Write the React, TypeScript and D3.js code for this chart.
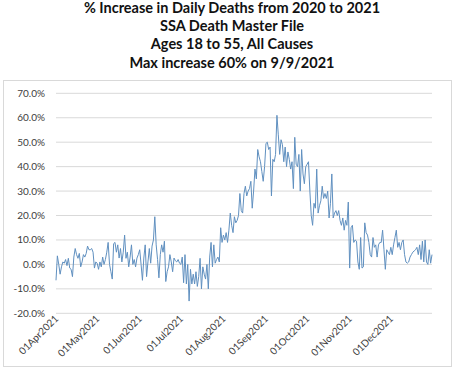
import React from "react";
import * as d3 from "d3";

const titleLines = [
  "% Increase in Daily Deaths from 2020 to 2021",
  "SSA Death Master File",
  "Ages 18 to 55, All Causes",
  "Max increase 60% on 9/9/2021",
];

const yTicks = [-20, -10, 0, 10, 20, 30, 40, 50, 60, 70];

const apr = [-6.5, 3.5, 0, -4, -1, 1, 0.5, 2, -0.5, 2.5, -1.5, -2, -5, 3, 6.5, 4, 2.5, 4.5, -1, 1, 4, 3, 4.5, 7.5, 6, 6, 6.5, 5, -1.5, 1];
const may = [0.5, -2, 1, -1, 3, 0, 2, 5, 9, 0, -3, -6, 8.5, 9, 5, 8, 2.6, 6.5, 1, 5, 12, 2.5, 5, -1, 3, 8, 0, 2, -1, 2.6, 4];
const jun = [6, 0, -6.5, 2.6, 8, -5, 1, 6.5, 0.5, 7.5, 10, 19.5, 8, 2, -5.5, 4, 8, 5, 9.5, -7, -3, -1, 4, 1, -3, 2.6, 1.5, 1, 2, 0.5];
const jul = [0, 3, -7.5, 4, -8, 0, -15, -2, -8, -4, -8, -3, -9, -5, 2.5, -10, -1, -4, -6, 0, -10, 3, 9, -1, 8, 0.5, 2, 3, 1, 15, 9];
const aug = [12, 10, 13, 9, 14, 21, 16, 13, 19.5, 17, 18, 20, 29, 22, 21, 29, 32, 28, 30, 31, 34, 23, 30, 39, 35, 47, 44, 42, 38, 34, 40];
const sep = [49.5, 50, 47, 48, 28, 43, 42, 45, 61, 53, 45, 51, 49, 42, 48, 40, 46, 43, 39, 42, 31, 52, 41, 40, 45, 30, 47, 37, 33, 40];
const oct = [41, 42, 30, 20, 16, 25, 23, 39, 21, 24, 26, 32, 27, 29, 27, 30, 19, 25, 37, 19, 21, 22, 20, 22, 18, 16, 19, 14, 18, 16, 25.5];
const nov = [-1.5, 15, 16, 9, 10, 9.5, 1, -2, 11, -1.5, -1, 17, 13, 12, 9, 4, 3, 11, 7, 8, 3, 8, 9, 9, 14, 6, -2, 6, 5, 4];
const dec = [7, 4, 8, 11, 14, 7, 9, 6, 9, 10, 4, 1, 0.5, 1, 3, 4, 5, 5.5, 6, 7, 4, 8, 2, 9.5, 1, 10, 1, 0, 6, 0.5, 4];

const months = [apr, may, jun, jul, aug, sep, oct, nov, dec];

export default function App() {
  const W = 455, H = 368;
  const left = 56, right = 432, top = 93.3, bottom = 313.3;

  const startDate = new Date(Date.UTC(2021, 3, 1));
  const endDate = new Date(Date.UTC(2021, 11, 31));

  const data: { date: Date; v: number }[] = [];
  months.forEach((arr, mi) => {
    arr.forEach((v, di) => {
      data.push({ date: new Date(Date.UTC(2021, 3 + mi, di + 1)), v });
    });
  });

  const x = d3.scaleUtc().domain([startDate, endDate]).range([left, right]);
  const y = d3.scaleLinear().domain([-20, 70]).range([bottom, top]);

  const line = d3
    .line<{ date: Date; v: number }>()
    .x((d) => x(d.date))
    .y((d) => y(d.v));

  const monthTicks = d3.utcMonth.range(startDate, new Date(Date.UTC(2021, 11, 2)));
  const fmt = d3.utcFormat("%d%b%Y");

  const font = "Lato, 'Liberation Sans', sans-serif";

  return (
    <svg
      width={W}
      height={H}
      style={{ position: "absolute", left: 0, top: 0, background: "#fff" }}
    >
      <rect x={0} y={0} width={W} height={H} fill="#fff" />
      {titleLines.map((t, i) => (
        <text
          key={i}
          x={232}
          y={13 + i * 18.2}
          textAnchor="middle"
          fontFamily={font}
          fontWeight="bold"
          fontSize={14.5}
          fill="#111"
        >
          {t}
        </text>
      ))}
      <rect x={3.5} y={80.5} width={448} height={286} fill="none" stroke="#d9d9d9" strokeWidth={1} />
      {yTicks.map((t) => (
        <g key={t}>
          <line x1={left} x2={right} y1={y(t)} y2={y(t)} stroke="#d9d9d9" strokeWidth={1} />
          <text
            x={45}
            y={y(t) + 3.5}
            textAnchor="end"
            fontFamily={font}
            fontSize={10}
            fill="#404040"
          >
            {t.toFixed(1) + "%"}
          </text>
        </g>
      ))}
      {monthTicks.map((d, i) => (
        <text
          key={i}
          transform={`translate(${x(d) + 3},${bottom + 6}) rotate(-45)`}
          textAnchor="end"
          fontFamily={font}
          fontSize={10}
          fill="#404040"
        >
          {fmt(d)}
        </text>
      ))}
      <path d={line(data) || ""} fill="none" stroke="#6090c0" strokeWidth={1} strokeLinejoin="round" />
    </svg>
  );
}
